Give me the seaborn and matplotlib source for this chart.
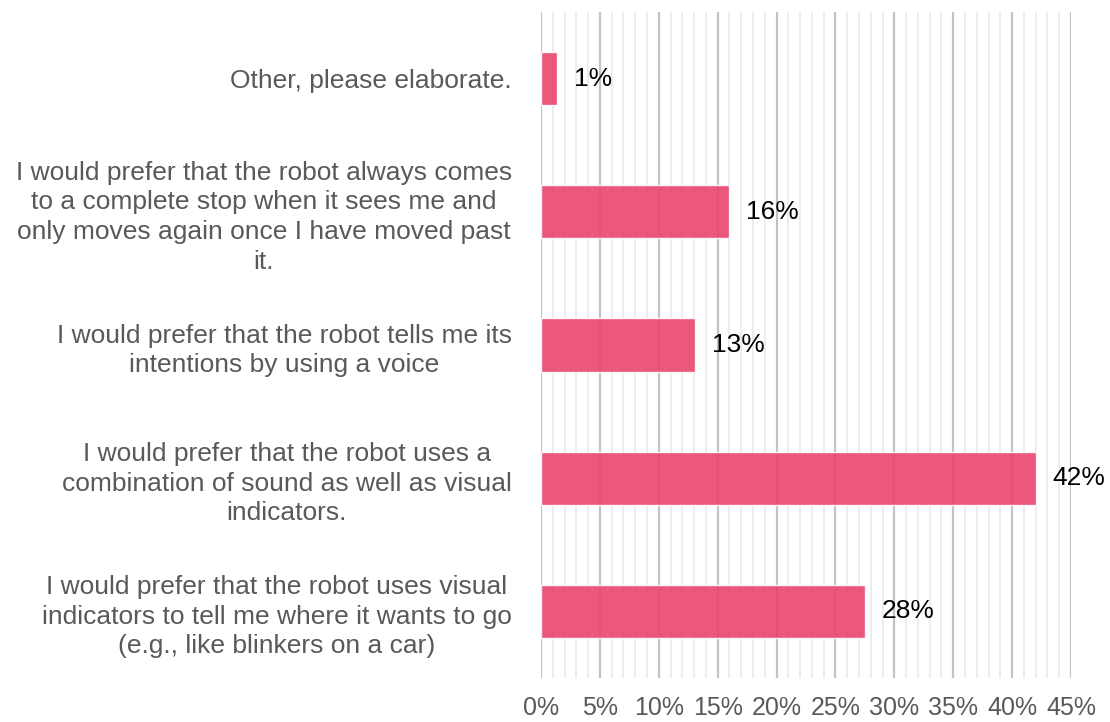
import matplotlib
matplotlib.use("Agg")
import matplotlib.pyplot as plt
import seaborn as sns
import pandas as pd
from matplotlib.ticker import MultipleLocator, FuncFormatter

# Survey answers, listed from top to bottom
answers = [
    "Other, please elaborate.",
    "I would prefer that the robot always comes\nto a complete stop when it sees me and\nonly moves again once I have moved past\nit.",
    "I would prefer that the robot tells me its\nintentions by using a voice",
    "I would prefer that the robot uses a\ncombination of sound as well as visual\nindicators.",
    "I would prefer that the robot uses visual\nindicators to tell me where it wants to go\n(e.g., like blinkers on a car)",
]
shares = [1.4, 16.0, 13.1, 42.0, 27.5]  # percent of respondents
x_ticks = [0, 5, 10, 15, 20, 25, 30, 35, 40, 45]

df = pd.DataFrame({"answer": answers, "share": shares})

sns.set_theme(style="white")
plt.rcParams["font.family"] = ["Liberation Sans", "DejaVu Sans"]

fig = plt.figure(figsize=(11.10, 7.22), dpi=100)
ax = fig.add_axes([541 / 1110, 44 / 722, 530 / 1110, 666 / 722])

sns.barplot(data=df, y="answer", x="share", orient="h", order=answers,
            color="#EA4169", alpha=0.88, width=0.4, saturation=1,
            ax=ax, zorder=1)

ax.set_xlim(x_ticks[0], x_ticks[-1])
ax.set_ylim(len(answers) - 0.5, -0.5)
ax.set_xticks(x_ticks)
ax.xaxis.set_minor_locator(MultipleLocator(1))
ax.xaxis.set_major_formatter(FuncFormatter(lambda v, _: f"{v:.0f}%"))
ax.grid(axis="x", which="major", color="#c3c3c3", linewidth=1.6, zorder=0)
ax.grid(axis="x", which="minor", color="#ededed", linewidth=1.4, zorder=0)
ax.grid(axis="y", visible=False)
ax.set_axisbelow(True)

for s in ax.spines.values():
    s.set_visible(False)

ax.set_xlabel("")
ax.set_ylabel("")
ax.tick_params(axis="x", which="both", length=0, pad=13, labelsize=18, labelcolor="#595959")
ax.tick_params(axis="y", length=0, pad=21, labelsize=19, labelcolor="#595959")
for lbl in ax.get_yticklabels():
    lbl.set_multialignment("center")
    lbl.set_linespacing(1.3)

# value labels to the right of each bar
for i, v in enumerate(shares):
    ax.text(v + 1.4, i, f"{v:.0f}%", va="center", ha="left",
            fontsize=19, color="black", clip_on=False)

fig.savefig("out.png", dpi=100)
